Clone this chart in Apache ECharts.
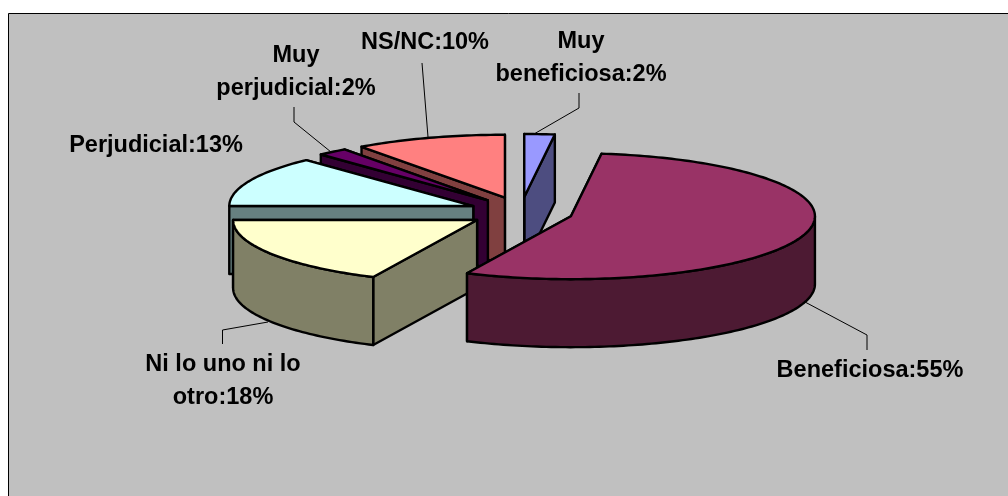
<!DOCTYPE html>
<html>
<head>
<meta charset="utf-8">
<style>html,body{margin:0;padding:0;background:#fff}#c{width:1008px;height:496px}</style>
<script src="https://cdn.jsdelivr.net/npm/echarts@6/dist/echarts.min.js"></script>
</head>
<body>
<div id="c"></div>
<script>
// Data, clockwise from 12 o'clock
var categories = ['Muy\nbeneficiosa', 'Beneficiosa', 'Ni lo uno ni lo\notro', 'Perjudicial', 'Muy\nperjudicial', 'NS/NC'];
var values = [2, 55, 18, 13, 2, 10];
var topColors = ['#9999FF', '#993366', '#FFFFCC', '#CCFFFF', '#660066', '#FF8080'];
var sideColors = ['#4D4D80', '#4D1A33', '#808066', '#668080', '#330033', '#804040'];
var drawOrder = [0, 5, 4, 3, 2, 1];
var labelCenters = [[581, 58], [870, 370.5], [223, 381], [156, 146], [296, 72], [425, 42.5]];
var leaders = [
  [[534, 134], [579, 108], [579, 93]],
  [[805, 302], [867, 335], [867, 350]],
  [[268, 322], [222.5, 330], [222.5, 344]],
  [],
  [[331, 152], [294, 122], [294, 107]],
  [[428, 137], [422, 63]]
];
// Pie geometry
var base = { x: 521, y: 212, rx: 244, ry: 63, depth: 68, explodeX: 52, explodeY: 15 };
var total = values.reduce(function (a, b) { return a + b; }, 0);
var starts = [];
values.reduce(function (acc, v, i) { starts[i] = acc; return acc + v; }, 0);

function toRad(share) { return share / total * 2 * Math.PI; }

function renderSlice(params, api) {
  var i = api.value(0), a0 = toRad(api.value(2)), a1 = toRad(api.value(2) + api.value(1));
  var mid = (a0 + a1) / 2;
  var cx = base.x + base.explodeX * Math.sin(mid), cy = base.y - base.explodeY * Math.cos(mid);
  var pt = function (a, dz) {
    return [cx + base.rx * Math.sin(a), cy - base.ry * Math.cos(a) + (dz || 0)];
  };
  var arc = function (from, to, dz) {
    var pts = [], n = Math.max(2, Math.ceil(Math.abs(to - from) / 0.02));
    for (var k = 0; k <= n; k++) pts.push(pt(from + (to - from) * k / n, dz));
    return pts;
  };
  var d = base.depth, c = [cx, cy], cb = [cx, cy + d];
  var side = { fill: sideColors[i], stroke: '#000', lineWidth: 2.4, lineJoin: 'round' };
  var top = { fill: topColors[i], stroke: '#000', lineWidth: 2.4, lineJoin: 'round' };
  var kids = [];
  var poly = function (points, style) { kids.push({ type: 'polygon', shape: { points: points }, style: style }); };
  poly([pt(a1), c, cb, pt(a1, d)], side);
  poly([pt(a0), c, cb, pt(a0, d)], side);
  // outer wall: only the front half of the ellipse faces the viewer
  var f0 = Math.max(a0, Math.PI / 2), f1 = Math.min(a1, Math.PI * 1.5);
  if (f1 > f0) poly(arc(f0, f1, 0).concat(arc(f1, f0, d)), side);
  poly([c].concat(arc(a0, a1, 0)), top);
  return { type: 'group', children: kids };
}

function renderLabel(params, api) {
  var i = api.value(0), kids = [];
  if (leaders[i].length) {
    kids.push({ type: 'polyline', shape: { points: leaders[i] }, style: { fill: null, stroke: '#000', lineWidth: 1 } });
  }
  kids.push({
    type: 'text', x: labelCenters[i][0], y: labelCenters[i][1],
    style: {
      text: categories[i] + ':' + api.value(1) + '%',
      fill: '#000', align: 'center', verticalAlign: 'middle',
      font: 'bold 23.5px "Liberation Sans", Arial, sans-serif', lineHeight: 33
    }
  });
  return { type: 'group', children: kids };
}

var rows = drawOrder.map(function (i) { return [i, values[i], starts[i]]; });
var chart = echarts.init(document.getElementById('c'), null, { renderer: 'canvas' });
chart.setOption({
  animation: false,
  backgroundColor: '#fff',
  tooltip: { show: false },
  graphic: [{
    type: 'rect', z: -10, silent: true,
    shape: { x: 8.5, y: 13.5, width: 1100, height: 600 },
    style: { fill: '#C0C0C0', stroke: '#000', lineWidth: 1 }
  }],
  series: [
    { type: 'custom', coordinateSystem: 'none', z: 2, silent: true, renderItem: renderSlice, data: rows },
    { type: 'custom', coordinateSystem: 'none', z: 3, silent: true, renderItem: renderLabel, data: rows }
  ]
});
</script>
</body>
</html>
